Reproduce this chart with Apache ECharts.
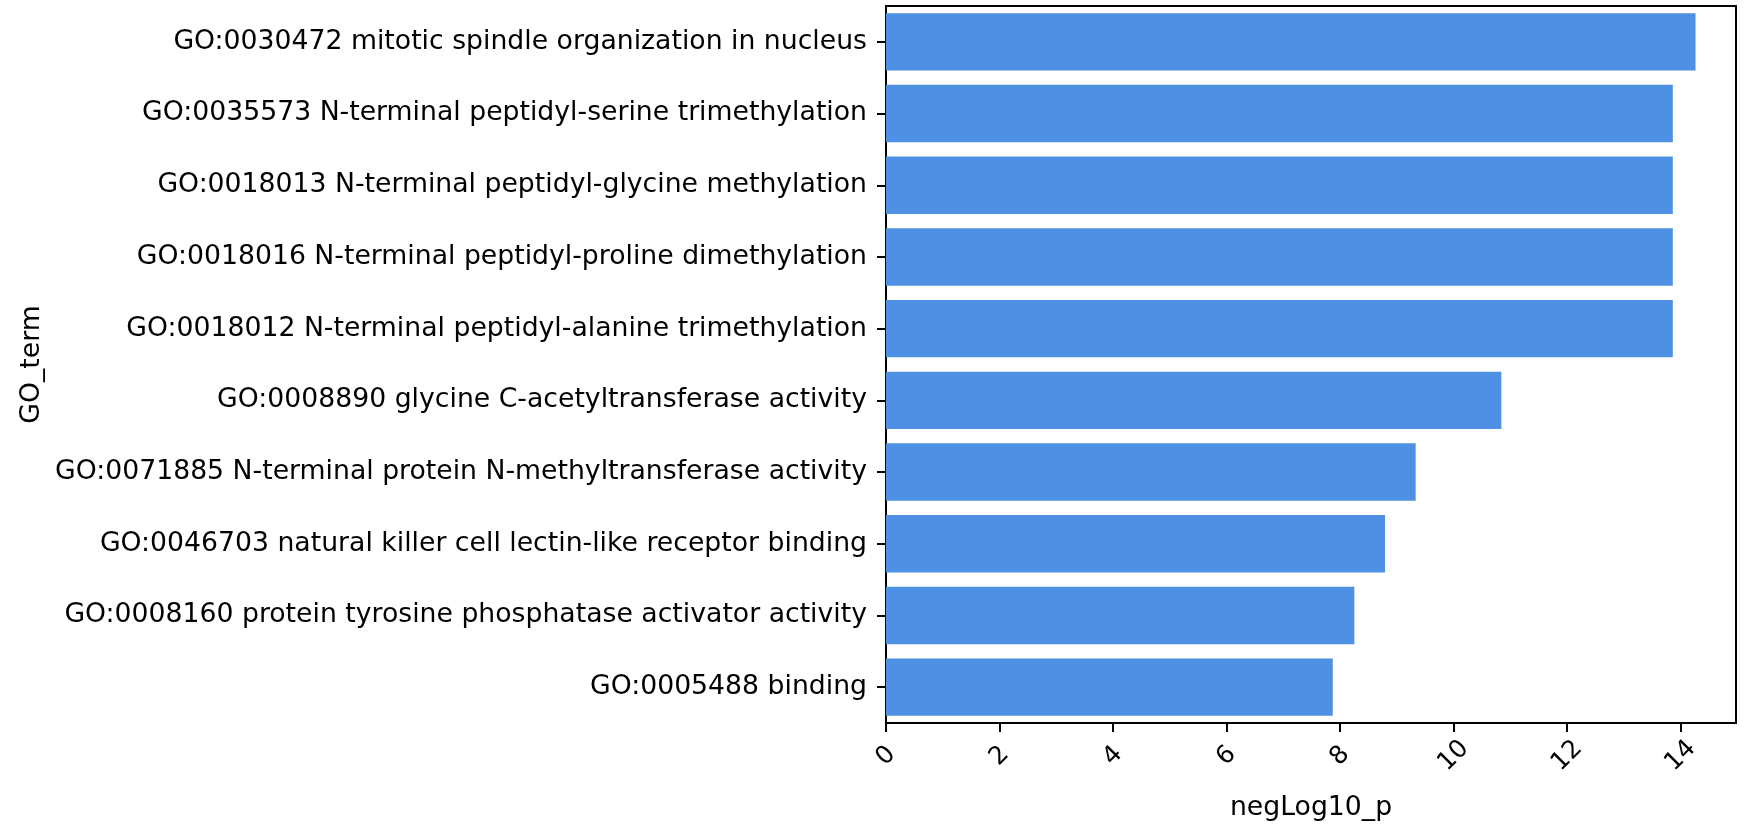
<!DOCTYPE html>
<html>
<head>
<meta charset="utf-8">
<script src="https://cdn.jsdelivr.net/npm/echarts@6/dist/echarts.min.js"></script>
<style>
  html, body { margin: 0; padding: 0; background: #fff; }
  #chart { width: 1748px; height: 827px; }
</style>
</head>
<body>
<div id="chart"></div>
<script>
// GO terms, top to bottom
const goTerms = [
  'GO:0030472 mitotic spindle organization in nucleus',
  'GO:0035573 N-terminal peptidyl-serine trimethylation',
  'GO:0018013 N-terminal peptidyl-glycine methylation',
  'GO:0018016 N-terminal peptidyl-proline dimethylation',
  'GO:0018012 N-terminal peptidyl-alanine trimethylation',
  'GO:0008890 glycine C-acetyltransferase activity',
  'GO:0071885 N-terminal protein N-methyltransferase activity',
  'GO:0046703 natural killer cell lectin-like receptor binding',
  'GO:0008160 protein tyrosine phosphatase activator activity',
  'GO:0005488 binding'
];
// -log10(p) per term
const negLog10P = [14.26, 13.86, 13.86, 13.86, 13.86, 10.84, 9.33, 8.79, 8.25, 7.87];
// x-axis tick values
const xTicks = [0, 2, 4, 6, 8, 10, 12, 14];

const FONT = 'DejaVu Sans';
const xMax = Math.max(...negLog10P) * 1.05;

const chart = echarts.init(document.getElementById('chart'), null, { renderer: 'canvas' });
chart.setOption({
  animation: false,
  backgroundColor: '#ffffff',
  grid: {
    left: 886, right: 12, top: 6, bottom: 101,
    show: true, borderColor: '#000', borderWidth: 2, backgroundColor: 'transparent'
  },
  xAxis: {
    type: 'value',
    min: 0,
    max: xMax,
    name: 'negLog10_p',
    nameLocation: 'middle',
    nameGap: 72,
    nameTextStyle: { fontFamily: FONT, fontSize: 26.7, color: '#000' },
    splitLine: { show: false },
    axisLine: { show: true, lineStyle: { color: '#000', width: 2 } },
    axisTick: { show: true, length: 9, lineStyle: { color: '#000', width: 2 }, customValues: xTicks },
    axisLabel: {
      customValues: xTicks,
      rotate: 45,
      align: 'center',
      verticalAlign: 'middle',
      margin: 33,
      fontFamily: FONT, fontSize: 25, color: '#000'
    }
  },
  yAxis: {
    type: 'category',
    data: goTerms,
    inverse: true,
    name: 'GO_term',
    nameLocation: 'middle',
    nameGap: 840,
    nameTextStyle: { fontFamily: FONT, fontSize: 26.7, color: '#000' },
    axisLine: { show: true, lineStyle: { color: '#000', width: 2 } },
    axisTick: { show: true, alignWithLabel: true, length: 9, lineStyle: { color: '#000', width: 2 } },
    axisLabel: { margin: 19, fontFamily: FONT, fontSize: 26.7, color: '#000', padding: [8, 0, 0, 0] },
    splitLine: { show: false }
  },
  series: [{
    type: 'bar',
    data: negLog10P,
    barCategoryGap: '20%',
    itemStyle: { color: '#4e90e3' }
  }]
});
</script>
</body>
</html>
